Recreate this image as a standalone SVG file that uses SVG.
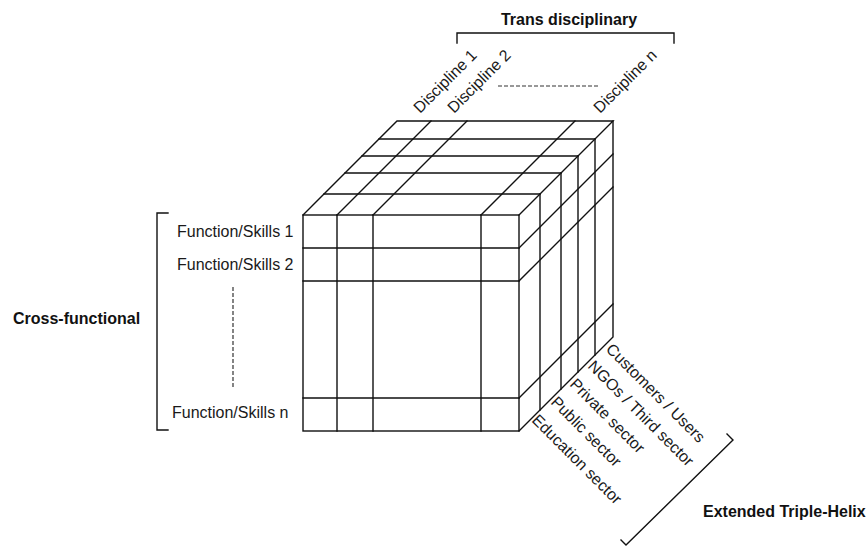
<svg xmlns="http://www.w3.org/2000/svg" width="868" height="548" viewBox="0 0 868 548">
<style>
.ln{fill:none;stroke:#111;stroke-width:1.4;stroke-linecap:square}
.dash{fill:none;stroke:#333;stroke-width:1.2;stroke-dasharray:4 2}
.t{font-family:"Liberation Sans",Arial,sans-serif;font-size:16px;fill:#1a1a1a}
.b{font-family:"Liberation Sans",Arial,sans-serif;font-size:16px;font-weight:bold;fill:#111}
</style>
<rect width="868" height="548" fill="#fff"/>
<g id="cube">
<g id="front-face" class="ln">
<rect x="303" y="215" width="216" height="216"/>
<path d="M337,215V431M373,215V431M481,215V431M303,248H519M303,281H519M303,398H519"/>
</g>
<g id="top-face" class="ln">
<path d="M303,215L397,121H613L519,215"/>
<path d="M337,215L431,121M373,215L467,121M481,215L575,121"/>
<path d="M324,194H540M345,173H561M362,156H578M379,139H595"/>
</g>
<g id="right-face" class="ln">
<path d="M613,121V337L519,431"/>
<path d="M540,194V410M561,173V389M578,156V372M595,139V355"/>
<path d="M519,248L613,154M519,281L613,187M519,398L613,304"/>
</g>
</g>
<g id="disciplines">
<text class="b" x="569" y="25" text-anchor="middle">Trans disciplinary</text>
<path class="ln" d="M457,43V33H674V43"/>
<text class="t" transform="translate(420,114) rotate(-45)">Discipline 1</text>
<text class="t" transform="translate(454,114) rotate(-45)">Discipline 2</text>
<text class="t" transform="translate(600,114) rotate(-45)">Discipline n</text>
<path class="dash" d="M498,86H600"/>
</g>
<g id="functions">
<text class="b" x="13" y="324">Cross-functional</text>
<path class="ln" d="M168,213H157V430H168"/>
<text class="t" x="177" y="237">Function/Skills 1</text>
<text class="t" x="177" y="270">Function/Skills 2</text>
<text class="t" x="172" y="418">Function/Skills n</text>
<path class="dash" d="M233,287V388"/>
</g>
<g id="sectors">
<text class="t" transform="translate(531,421) rotate(45)">Education sector</text>
<text class="t" transform="translate(550,403) rotate(45)">Public sector</text>
<text class="t" transform="translate(569,385) rotate(45)">Private sector</text>
<text class="t" transform="translate(587,367) rotate(45)">NGOs / Third sector</text>
<text class="t" transform="translate(605,350) rotate(45)">Customers / Users</text>
<path class="ln" d="M727,434L733,440L626,545L621,540"/>
<text class="b" x="703" y="517">Extended Triple-Helix</text>
</g>
</svg>
